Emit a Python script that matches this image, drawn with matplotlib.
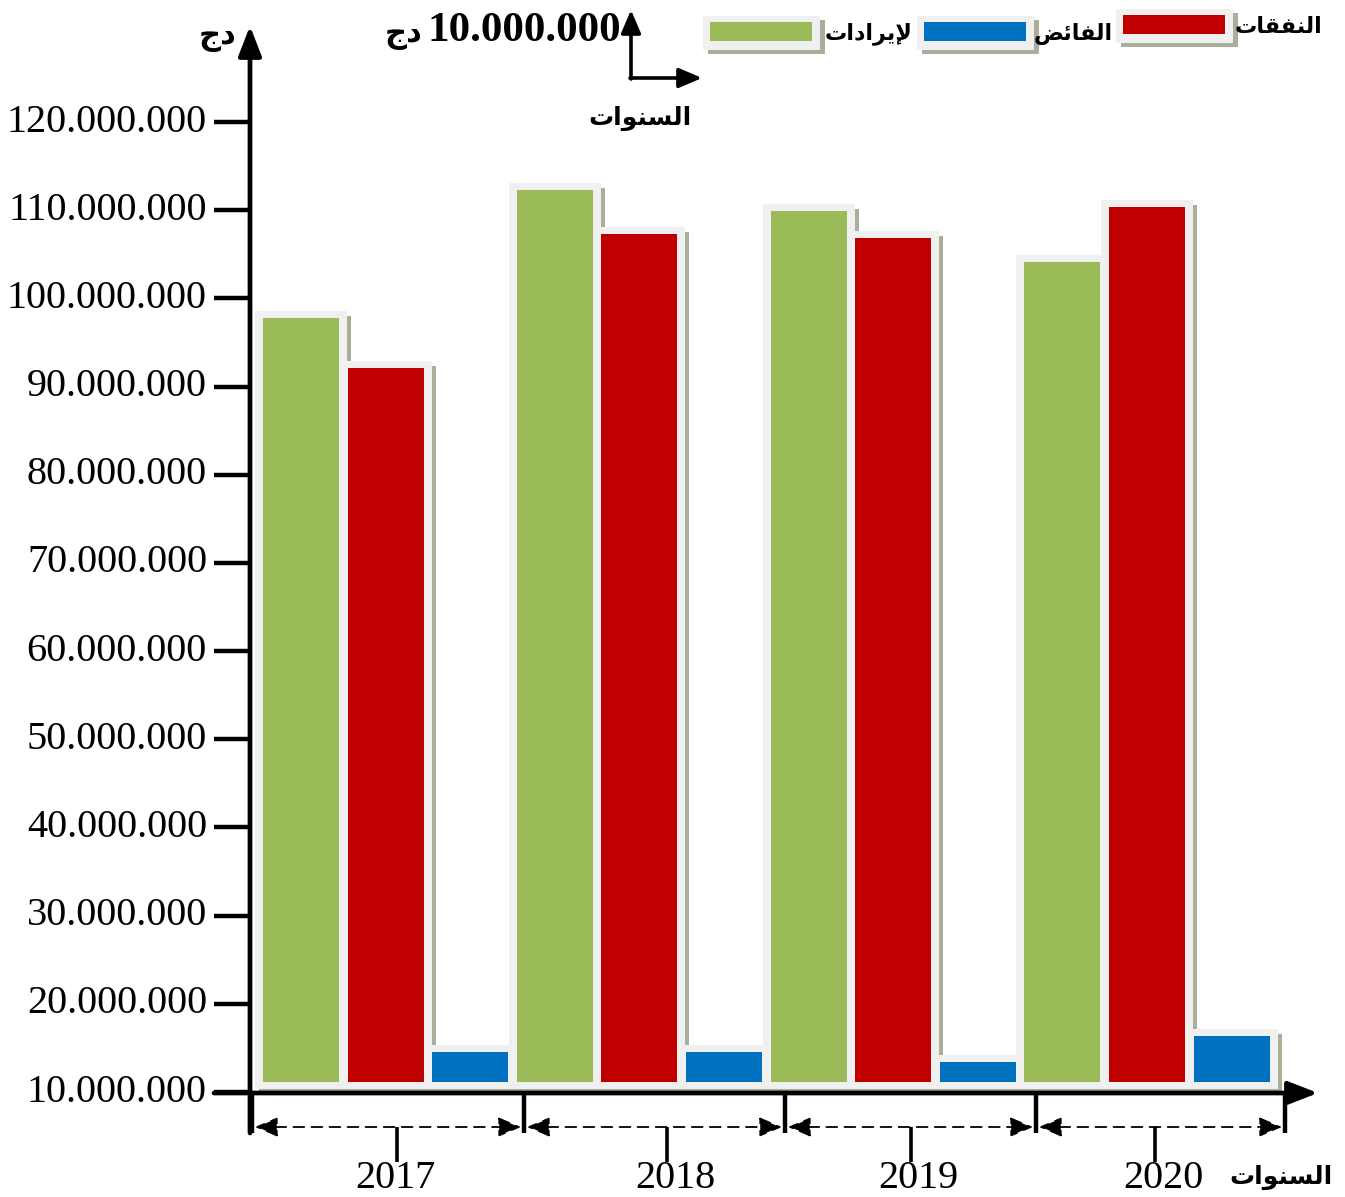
import matplotlib
matplotlib.use("Agg")
import matplotlib.pyplot as plt

# budget figures, in millions of dinars
years = ["2017", "2018", "2019", "2020"]
revenue = [97.8, 112.3, 109.9, 104.1]   # الإيرادات
expenses = [92.1, 107.3, 106.8, 110.4]  # النفقات
surplus_top = [14.5, 14.5, 13.4, 16.4]  # الفائض
y_ticks = [10, 20, 30, 40, 50, 60, 70, 80, 90, 100, 110, 120]
tick_labels = ["10.000.000", "20.000.000", "30.000.000", "40.000.000",
               "50.000.000", "60.000.000", "70.000.000", "80.000.000",
               "90.000.000", "100.000.000", "110.000.000", "120.000.000"]

# arabic words written in presentation forms (visual order)
DJ = "\uFE9D\uFEA9"                                   # دج
YEARS_AR = "\uFE95\uFE8D\uFEEE\uFEE8\uFEB4\uFEDF\uFE8D"  # السنوات
EXP_AR = "\uFE95\uFE8E\uFED8\uFED4\uFEE8\uFEDF\uFE8D"    # النفقات
SUR_AR = "\uFEBE\uFE8B\uFE8E\uFED4\uFEDF\uFE8D"          # الفائض
REV_AR = "\uFE95\uFE8D\uFEA9\uFE8D\uFEAE\uFEF3\uFEF9"    # لإيرادات

GREEN = "#9BBB59"
RED = "#C00000"
BLUE = "#0070C0"
FRAME = "#F0F0F0"
SHADOW = "#A9AF98"

# page layout helpers (pixel -> data)
X0, SX = 301.0, 84.6
Y0, SY = 1092.0, 8.818


def px(x):
    return (x - X0) / SX


def py(y):
    return 10 + (Y0 - y) / SY


W, H = 1345, 1197
fig = plt.figure(figsize=(W / 100, H / 100), dpi=100)
ax = fig.add_axes([0, 0, 1, 1])
ax.set_xlim(px(0), px(W))
ax.set_ylim(py(H), py(0))
ax.axis("off")

base = 11.1
bw = 0.9
mx = 8 / SX
my = 7 / SY
frame_bottom = py(1089)
shadow_bottom = py(1094)


def framed_bar(x, top, color, bottom=base, width=bw):
    ax.bar(x + 4 / SX, (top + my - 5 / SY) - shadow_bottom, width + 2 * mx,
           bottom=shadow_bottom, color=SHADOW, linewidth=0)
    ax.bar(x, (top + my) - frame_bottom, width + 2 * mx, bottom=frame_bottom,
           color=FRAME, linewidth=0)
    ax.bar(x, top - bottom, width, bottom=bottom, color=color, linewidth=0)


for g in range(len(years)):
    framed_bar(3 * g, revenue[g], GREEN)
    framed_bar(3 * g + 1, expenses[g], RED)
    framed_bar(3 * g + 2, surplus_top[g], BLUE)

arrow_kw = dict(color="black", shrinkA=0, shrinkB=0)

# y axis with arrow
ax.annotate("", xy=(px(250), py(26)), xytext=(px(250), py(1133)),
            arrowprops=dict(arrowstyle="-|>,head_length=0.9,head_width=0.35",
                            lw=3.4, mutation_scale=20, **arrow_kw))
# x axis with arrow
ax.annotate("", xy=(px(1318), py(1093)), xytext=(px(214), py(1093)),
            arrowprops=dict(arrowstyle="-|>,head_length=0.9,head_width=0.35",
                            lw=3.4, mutation_scale=20, **arrow_kw))

serif = ["Liberation Serif", "DejaVu Serif"]
for v, lab in zip(y_ticks, tick_labels):
    ax.plot([px(214), px(250)], [v, v], color="black", lw=3.2,
            solid_capstyle="butt")
    ax.text(px(207), v, lab, ha="right", va="center", fontsize=29,
            family=serif)

# year brackets under the x axis
group_edges = [px(252), px(524), px(785), px(1036), px(1285)]
group_mids = [px(397), px(667), px(911), px(1155)]
label_shift = [-2, 8, 7, 8]
for e in group_edges:
    ax.plot([e, e], [py(1093), py(1133)], color="black", lw=3.2,
            solid_capstyle="butt")
for g, yr in enumerate(years):
    a, b = group_edges[g], group_edges[g + 1]
    ax.annotate("", xy=(b - 3 / SX, py(1127)), xytext=(a + 3 / SX, py(1127)),
                arrowprops=dict(arrowstyle="<|-|>,head_length=0.7,head_width=0.3",
                                lw=1.3, ls=(0, (6, 4)), mutation_scale=20,
                                **arrow_kw))
    c = group_mids[g]
    ax.plot([c, c], [py(1127), py(1162)], color="black", lw=2.6,
            solid_capstyle="butt")
    ax.text(c + label_shift[g] / SX, py(1178), yr, ha="center", va="center",
            fontsize=29, family=serif)

arabic = ["DejaVu Sans"]
ax.text(px(1333), py(1177), YEARS_AR, ha="right", va="center", fontsize=18,
        fontweight="bold", family=arabic)
ax.text(px(236), py(38), DJ, ha="right", va="center", fontsize=22,
        fontweight="bold", family=arabic)

# unit note at the top
ax.text(px(621), py(31), "10.000.000", ha="right", va="center", fontsize=31,
        fontweight="bold", family=serif)
ax.text(px(422), py(36), DJ, ha="right", va="center", fontsize=22,
        fontweight="bold", family=arabic)
ax.annotate("", xy=(px(631), py(10)), xytext=(px(631), py(79)),
            arrowprops=dict(arrowstyle="-|>,head_length=0.7,head_width=0.3",
                            lw=2.6, mutation_scale=20, **arrow_kw))
ax.annotate("", xy=(px(702), py(78)), xytext=(px(630), py(78)),
            arrowprops=dict(arrowstyle="-|>,head_length=0.7,head_width=0.3",
                            lw=2.6, mutation_scale=20, **arrow_kw))
ax.text(px(692), py(118), YEARS_AR, ha="right", va="center", fontsize=18,
        fontweight="bold", family=arabic)

# legend
legend_items = [(GREEN, REV_AR, 703, 16, 912), (BLUE, SUR_AR, 917, 16, 1113),
                (RED, EXP_AR, 1116, 9, 1322)]
for color, label, x_left, y_top, label_right in legend_items:
    w = 117 / SX
    h = 34 / SY
    xl = px(x_left)
    yt = py(y_top)
    ax.bar(xl + 5 / SX, h, w, bottom=yt - h - 4 / SY, align="edge",
           color=SHADOW, linewidth=0)
    ax.bar(xl, h, w, bottom=yt - h, align="edge", color=FRAME, linewidth=0)
    ax.bar(xl + 7 / SX, 19 / SY, 102 / SX, bottom=yt - 25 / SY, align="edge",
           color=color, linewidth=0)
    ax.text(px(label_right), yt - 18 / SY, label, ha="right", va="center",
            fontsize=16, fontweight="bold", family=arabic)

fig.savefig("out.png", dpi=100)
